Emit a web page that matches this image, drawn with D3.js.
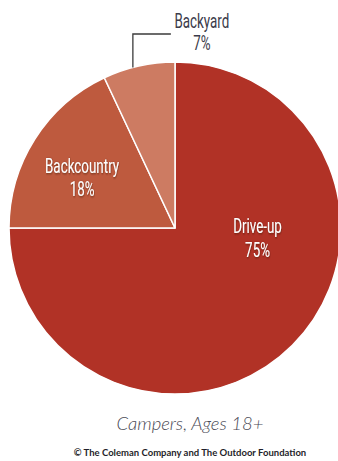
<!DOCTYPE html>
<html>
<head>
<meta charset="utf-8">
<script src="https://cdn.jsdelivr.net/npm/d3@7"></script>
<style>
  html, body { margin: 0; padding: 0; background: #fff; }
  svg { display: block; }
  .cond { font-family: Roboto, "DejaVu Sans", sans-serif; font-size: 20px; text-anchor: middle; }
  .slice-label { fill: #fff; }
  .out-label { fill: #3b3b4a; }
</style>
</head>
<body>
<svg id="chart" width="338" height="461"></svg>
<script>
// Share of campers by camping type
const categories = ["Drive-up", "Backcountry", "Backyard"];
const values = [75, 18, 7];
const colors = ["#B13226", "#BE5A3E", "#CD7B62"];

const svg = d3.select("#chart");
const cx = 175, cy = 228, radius = 166;
const squeeze = 0.67; // horizontal compression for a condensed look
const deg = Math.PI / 180;

const defs = svg.append("defs");
const shadow = defs.append("filter").attr("id", "txtShadow")
  .attr("x", "-20%").attr("y", "-20%").attr("width", "140%").attr("height", "140%");
shadow.append("feDropShadow").attr("dx", 0.6).attr("dy", 0.8)
  .attr("stdDeviation", 0.9).attr("flood-color", "#3a1a12").attr("flood-opacity", 0.7);

const pie = d3.pie().sort(null).value(d => d.value);
const arcs = pie(categories.map((c, i) => ({ name: c, value: values[i], color: colors[i] })));
const arc = d3.arc().innerRadius(0).outerRadius(radius);

const g = svg.append("g").attr("transform", `translate(${cx},${cy})`);

g.selectAll("path.slice")
  .data(arcs)
  .join("path")
  .attr("class", "slice")
  .attr("d", arc)
  .attr("fill", d => d.data.color)
  .attr("stroke", "#fff")
  .attr("stroke-width", 1.5)
  .attr("stroke-linejoin", "round");

// Labels inside the two large slices (angle from 12 o'clock, radius fraction)
const inside = [
  { i: 0, angle: 96 * deg, r: 0.5 },
  { i: 1, angle: 299 * deg, r: 0.64 }
];
inside.forEach(({ i, angle, r }) => {
  const a = arcs[i];
  const x = Math.sin(angle) * radius * r, y = -Math.cos(angle) * radius * r;
  const t = g.append("text").attr("class", "cond slice-label")
    .attr("filter", "url(#txtShadow)")
    .attr("transform", `translate(${x},${y}) scale(${squeeze},1)`);
  t.append("tspan").attr("x", 0).attr("y", -4).text(a.data.name);
  t.append("tspan").attr("x", 0).attr("y", 20).text(a.data.value + "%");
});

// Small slice: label outside with an elbow leader line
const small = arcs[2];
const leadAngle = 345.3 * deg;
const edge = [Math.sin(leadAngle) * radius, -Math.cos(leadAngle) * radius];
const elbowY = -194;
g.append("polyline")
  .attr("points", [[edge[0], edge[1]], [edge[0], elbowY], [edge[0] + 38, elbowY]].map(p => p.join(",")).join(" "))
  .attr("fill", "none")
  .attr("stroke", "#3b3b3b")
  .attr("stroke-width", 1.3);
const ot = g.append("text").attr("class", "cond out-label")
  .attr("transform", `translate(${edge[0] + 69},0) scale(${squeeze},1)`);
ot.append("tspan").attr("x", 0).attr("y", -200).text(small.data.name);
ot.append("tspan").attr("x", 0).attr("y", -178).text(small.data.value + "%");

// Subtitle and credit
svg.append("text")
  .attr("x", 190).attr("y", 430)
  .attr("text-anchor", "middle")
  .attr("font-family", "Lato, 'Open Sans', sans-serif")
  .attr("font-style", "italic")
  .attr("font-weight", 300)
  .attr("font-size", 18.5)
  .attr("fill", "#4a4a55")
  .text("Campers, Ages 18+");

svg.append("text")
  .attr("x", 190).attr("y", 456)
  .attr("text-anchor", "middle")
  .attr("font-family", "Lato, 'Open Sans', sans-serif")
  .attr("font-weight", 700)
  .attr("font-size", 9.5)
  .attr("fill", "#1f1f2a")
  .text("© The Coleman Company and The Outdoor Foundation");
</script>
</body>
</html>
